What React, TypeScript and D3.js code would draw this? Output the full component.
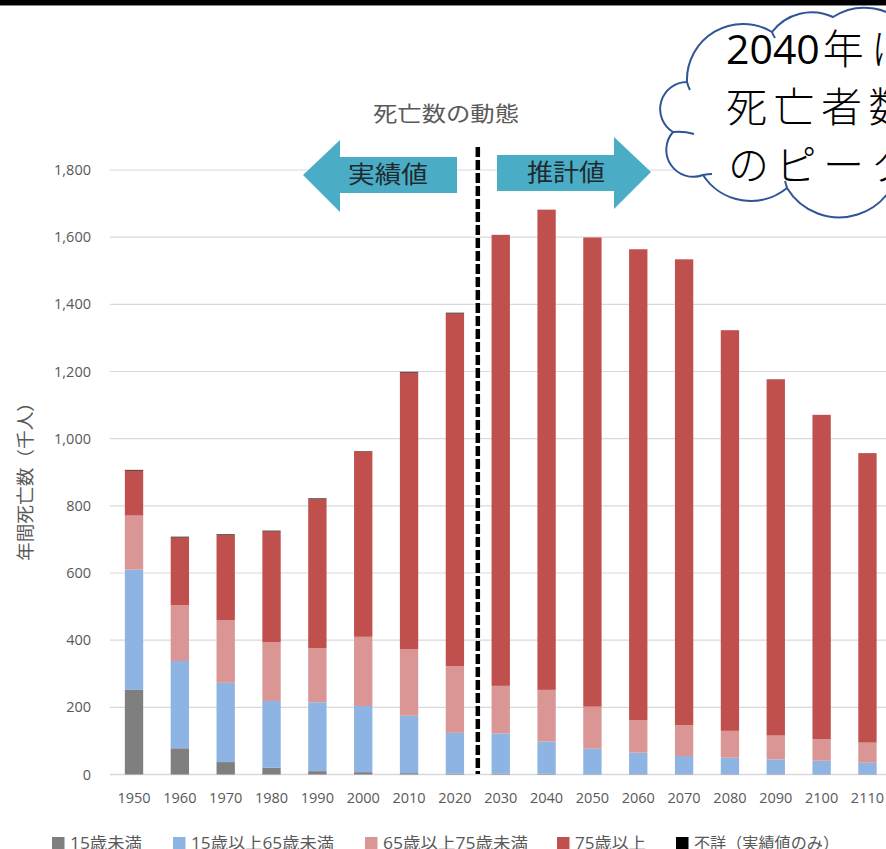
import React from "react";
import * as d3 from "d3";

const years = ["1950","1960","1970","1980","1990","2000","2010","2020","2030","2040","2050","2060","2070","2080","2090","2100","2110"];
const under15 = [252, 78, 37, 20, 10, 7, 4, 2, 2, 2, 1, 1, 1, 1, 1, 1, 1];
const age15to64 = [358, 260, 236, 199, 205, 197, 171, 122, 120, 96, 76, 64, 54, 49, 44, 40, 34];
const age65to74 = [161, 166, 187, 175, 161, 206, 198, 199, 142, 154, 125, 97, 92, 80, 71, 64, 60];
const age75plus = [134, 202, 253, 330, 444, 552, 824, 1050, 1343, 1430, 1397, 1402, 1387, 1193, 1061, 966, 862];
const unknown = [2, 2, 2, 2, 2, 1, 2, 2, 0, 0, 0, 0, 0, 0, 0, 0, 0];
const yTicks = [0, 200, 400, 600, 800, 1000, 1200, 1400, 1600, 1800];

const seriesKeys = ["u15", "a15", "a65", "a75", "unk"];
const seriesNames = ["15歳未満", "15歳以上65歳未満", "65歳以上75歳未満", "75歳以上", "不詳（実績値のみ）"];
const seriesColors = ["#7F7F7F", "#8DB4E2", "#DA9694", "#C0504D", "#000000"];
const legendX = [52, 173, 365, 557, 676];
const legendTextW = [72, 143, 145, 71, 145];

const W = 886, H = 849;
const FONT = "'Open Sans', 'Noto Sans CJK JP', sans-serif";
const JP = "'Noto Sans CJK JP', sans-serif";

export default function App() {
  const rows = years.map((y, i) => ({
    year: y, u15: under15[i], a15: age15to64[i], a65: age65to74[i], a75: age75plus[i], unk: unknown[i],
  }));
  const stack = d3.stack<any>().keys(seriesKeys)(rows);
  const step = 45.84;
  const x = d3.scaleBand().domain(years).range([111.1, 111.1 + step * years.length]).paddingInner(0.6).paddingOuter(0.3);
  const y = d3.scaleLinear().domain([0, 1800]).range([774.5, 170]);
  const fmt = d3.format(",");
  const divX = (x("2020") as number) + x.bandwidth() / 2 + x.step() / 2;

  const cloud = [
    "M687,82",
    "A56,56 0 0 1 772,32",
    "A50,50 0 0 1 833,17",
    "A58,58 0 0 1 910,30",
    "L900,152",
    "A61,61 0 0 1 787,188",
    "A57,57 0 0 1 703,175",
    "A27,27 0 0 1 673,132",
    "A27,27 0 0 1 687,82",
    "Z",
  ].join(" ");
  const tails = [
    "M673,132 Q684,131 694,134",
    "M703,175 Q708,174 712,174",
    "M687,82 Q688,86 690,90",
    "M772,32 Q773,35 775,38",
    "M787,188 Q786,184 785,181",
  ];

  return (
    <svg width={W} height={H} style={{ position: "absolute", left: 0, top: 0, background: "#fff" }}>
      <rect x={0} y={0} width={W} height={H} fill="#fff" />
      {/* top border */}
      <rect x={0} y={0} width={W} height={5} fill="#000" />
      <line x1={0} x2={W} y1={5.5} y2={5.5} stroke="#888" strokeWidth={1} />

      {/* gridlines */}
      {yTicks.map((t) => (
        <line key={t} x1={110} x2={W} y1={y(t)} y2={y(t)} stroke="#D9D9D9" strokeWidth={t === 0 ? 1.5 : 1.2} />
      ))}
      {/* y tick labels */}
      {yTicks.map((t) => (
        <text key={"l" + t} x={91} y={y(t)} dy="0.35em" textAnchor="end" fontSize={14.5} fill="#595959" fontFamily={FONT}>
          {fmt(t)}
        </text>
      ))}
      {/* y axis title */}
      <text transform={`translate(32,477) rotate(-90)`} textAnchor="middle" fontSize={18} fill="#595959" fontFamily={JP}
        textLength={168} lengthAdjust="spacingAndGlyphs">
        年間死亡数（千人）
      </text>

      {/* bars */}
      {stack.map((s, si) => (
        <g key={s.key} fill={seriesColors[si]}>
          {s.map((d, i) => (
            <rect key={i} x={x(years[i]) as number} width={x.bandwidth()} y={y(d[1])} height={Math.max(0, y(d[0]) - y(d[1]))} />
          ))}
        </g>
      ))}

      {/* x labels */}
      {years.map((yr) => (
        <text key={yr} x={(x(yr) as number) + x.bandwidth() / 2} y={803} textAnchor="middle" fontSize={14.5} fill="#595959" fontFamily={FONT}>
          {yr}
        </text>
      ))}

      {/* divider */}
      <line x1={divX} x2={divX} y1={147} y2={774} stroke="#000" strokeWidth={4.5} strokeDasharray="10,3" />

      {/* title */}
      <text x={446} y={121} textAnchor="middle" fontSize={21} fill="#595959" fontFamily={JP}
        textLength={146} lengthAdjust="spacingAndGlyphs">
        死亡数の動態
      </text>

      {/* arrows */}
      <path d="M303,175 L340,140 L340,157 L457,157 L457,193 L340,193 L340,212 Z" fill="#4BACC6" />
      <text x={388} y={183} textAnchor="middle" fontSize={24} fill="#1F2A2E" fontFamily={JP}
        textLength={80} lengthAdjust="spacingAndGlyphs">実績値</text>
      <path d="M651,172 L614,137 L614,155 L497,155 L497,191 L614,191 L614,209 Z" fill="#4BACC6" />
      <text x={566} y={181} textAnchor="middle" fontSize={24} fill="#1F2A2E" fontFamily={JP}
        textLength={78} lengthAdjust="spacingAndGlyphs">推計値</text>

      {/* cloud callout */}
      <path d={cloud} fill="#fff" stroke="#2F5597" strokeWidth={2} />
      {tails.map((t, i) => (
        <path key={i} d={t} fill="none" stroke="#2F5597" strokeWidth={2} />
      ))}
      <g fontSize={41} fill="#000" fontFamily={JP} fontWeight={300}>
        <text x={726} y={64}>
          <tspan fontFamily="'Liberation Sans Narrow', 'Open Sans', sans-serif" fontWeight={400}>2040</tspan>
          <tspan dx={3} style={{ letterSpacing: "7px" }}>年に</tspan>
        </text>
        <text x={726} y={122} style={{ letterSpacing: "6.5px" }}>死亡者数</text>
        <text x={728} y={180} style={{ letterSpacing: "6.5px" }}>のピーク</text>
      </g>

      {/* legend */}
      {seriesNames.map((n, i) => (
        <g key={n}>
          <rect x={legendX[i]} y={837} width={12.5} height={12.5} fill={seriesColors[i]} />
          <text x={legendX[i] + 18} y={849} fontSize={16} fill="#595959" fontFamily={FONT}
            textLength={legendTextW[i]} lengthAdjust="spacingAndGlyphs">{n}</text>
        </g>
      ))}
    </svg>
  );
}
